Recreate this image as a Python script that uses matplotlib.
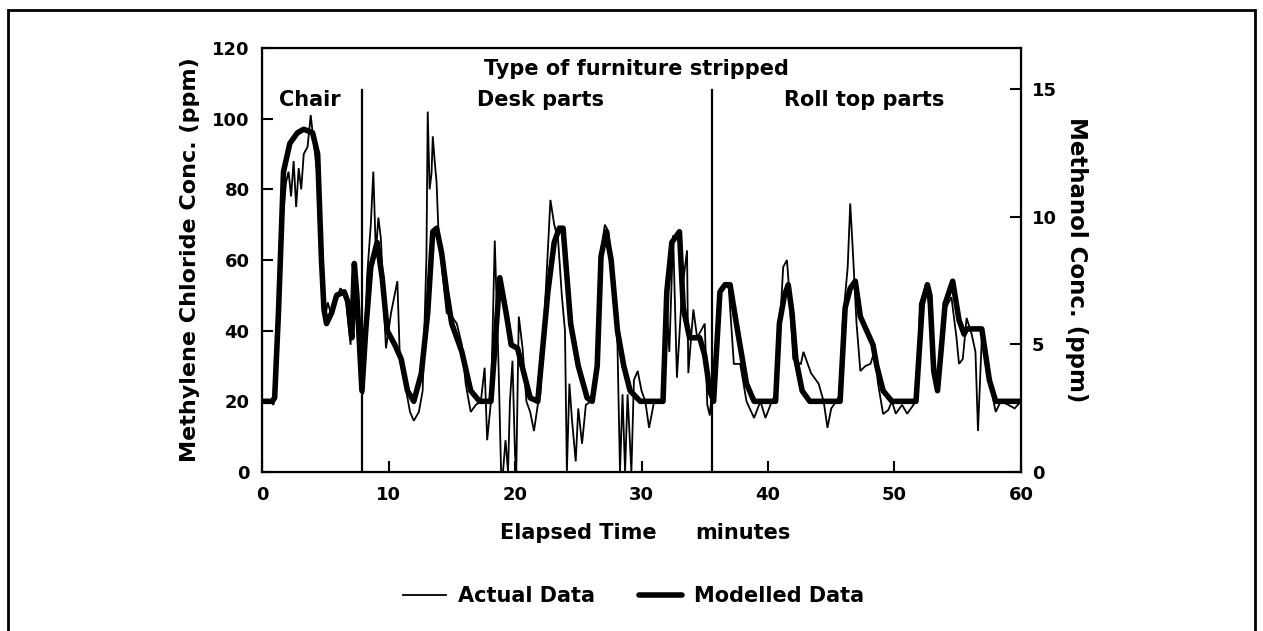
import numpy as np
import matplotlib
matplotlib.use("Agg")
import matplotlib.pyplot as plt
from matplotlib.patches import Rectangle

plt.rcParams['font.family'] = ['DejaVu Sans']
plt.rcParams['font.weight'] = 'bold'

# ---- data (minutes, ppm methylene chloride) ----
model_time = [0, 0.8, 1.0, 1.3, 1.7, 2.2, 2.8, 3.3, 4.0, 4.4, 4.7, 4.9, 5.1, 5.5, 5.9, 6.5, 6.8, 7.1, 7.3, 7.5, 7.9,
              8.2, 8.6, 9.1, 9.5, 9.9, 10.5, 11.0, 11.5, 12.0,
              12.6, 13.1, 13.5, 13.8, 14.2, 14.6, 15.0, 15.8, 16.5, 17.2, 18.1,
              18.4, 18.8, 19.3, 19.7, 20.2, 20.7, 21.2, 21.8,
              22.6, 23.1, 23.5, 23.8, 24.4, 25.0, 25.7, 26.1,
              26.5, 26.8, 27.2, 27.6, 28.1, 28.6, 29.1, 29.9, 31.7,
              32.0, 32.4, 33.0, 33.3, 33.8, 34.6, 35.0, 35.4, 35.7,
              36.2, 36.6, 37.0, 37.5, 38.3, 38.9, 40.6,
              40.9, 41.3, 41.6, 41.9, 42.2, 42.7, 43.3, 45.7,
              46.1, 46.5, 46.9, 47.3, 47.8, 48.3, 48.6, 49.1, 49.8, 51.7,
              52.2, 52.6, 52.8, 53.1, 53.4, 53.7, 54.0, 54.6, 55.1, 55.5, 55.7, 56.9, 57.5, 58.0, 60]
model_ppm = [20, 20, 21, 45, 85, 93, 96, 97, 96, 90, 60, 46, 42, 45, 50, 51, 48, 38, 59, 50, 23,
             40, 58, 65, 55, 40, 36, 32, 23, 20,
             28, 45, 68, 69, 62, 51, 42, 34, 23, 20, 20,
             35, 55, 45, 36, 35, 28, 21, 20,
             51, 65, 69, 69, 42, 30, 21, 20,
             30, 61, 68, 60, 40, 30, 23, 20, 20,
             51, 65, 68, 46.5, 38, 38, 33, 23, 20,
             51, 53, 53, 42, 25, 20, 20,
             42, 50, 53, 45, 32, 23, 20, 20,
             46.5, 52, 54, 44, 40, 36, 30, 23, 20, 20,
             47.6, 53, 50, 28.6, 23, 35, 47.6, 54, 43, 39, 40.5, 40.5, 26, 20, 20]

actual_time = [0, 0.7, 0.9, 1.1, 1.3, 1.6, 1.9, 2.1, 2.3, 2.5, 2.7, 2.9, 3.1, 3.3, 3.6, 3.85, 4.1, 4.5, 4.8, 5.0,
               5.2, 5.5, 5.8, 6.2, 6.6, 7.0, 7.2, 7.4, 7.6, 7.8, 8.0,
               8.3, 8.6, 8.8, 9.0, 9.2, 9.4, 9.6, 9.8, 10.2, 10.7, 10.9, 11.3, 11.7, 12.0, 12.4, 12.7,
               13.0, 13.1, 13.25, 13.4, 13.5, 13.65, 13.8, 13.95, 14.3, 14.6, 15.0, 15.4, 15.8, 16.1, 16.5,
               16.9, 17.3, 17.6, 17.8, 18.1,
               18.4, 18.7, 18.9, 19.05, 19.25, 19.45, 19.6, 19.8, 20.0, 20.1, 20.3, 20.6, 20.9, 21.2, 21.5, 21.8,
               22.0, 22.3, 22.8, 23.1, 23.4, 23.7, 23.95, 24.1, 24.3, 24.5, 24.8, 25.0, 25.3, 25.6, 26.0,
               26.4, 26.8, 27.1, 27.4, 27.6, 27.9, 28.1, 28.3, 28.5, 28.7, 28.9, 29.2, 29.4, 29.7, 30.0,
               30.3, 30.6, 31.0, 31.6,
               32.0, 32.2, 32.5, 32.8, 33.2, 33.6, 33.7, 34.1, 34.4, 35.0, 35.2, 35.4,
               35.9, 36.2, 36.6, 36.9, 37.3, 37.8, 38.3, 38.9, 39.4, 39.8, 40.3,
               40.6, 41.0, 41.2, 41.5, 41.7, 42.0, 42.3, 42.6, 42.8, 43.1, 43.4, 44.0, 44.4, 44.7, 45.0, 45.4,
               45.7, 45.9, 46.3, 46.5, 46.7, 47.0, 47.3, 47.7, 48.1, 48.4, 48.7, 49.1, 49.5, 49.8,
               50.1, 50.6, 51.0, 51.5, 51.8, 52.0, 52.4, 52.6, 52.8, 53.1, 53.4, 54.0, 54.5, 54.9, 55.1,
               55.4, 55.7, 56.1, 56.4, 56.6, 56.9, 57.5, 58.0, 58.4, 59.0, 59.5, 60.0]
actual_ppm = [20, 20, 19, 22, 40, 70, 82, 85, 78, 88, 75, 86, 80, 90, 92, 101, 93, 80, 55, 44,
              48, 44, 48, 52, 50, 36, 55, 58, 40, 28, 22,
              55, 70, 85, 62, 72, 66, 50, 35, 45, 54, 32, 25, 17, 14.5, 17, 23,
              61, 102, 80, 84.5, 95, 88, 82, 68, 55, 45, 44, 42, 36, 25, 17,
              19, 20, 29.5, 9, 20,
              65.5, 30, 0, 0, 9, 0, 20, 31.5, 5, 0, 44, 35, 20, 17, 11.6, 19,
              22, 42, 77, 70, 66, 50, 40, 0, 25, 15, 3, 18, 8, 19, 20,
              30, 62, 70, 68, 60, 45, 36, 0, 22, 0, 22, 0, 26, 28.6, 23,
              20, 12.5, 20, 20,
              46.5, 34, 67, 26.7, 51, 62.7, 28, 46, 38, 42, 19, 16,
              37, 51, 53, 52, 30.6, 30.6, 20, 15.3, 20, 15.3, 20,
              22, 45, 58, 60, 50, 32, 31, 30.6, 34, 31, 28, 25, 20, 12.5, 18, 20,
              22, 42, 58, 76, 63, 42, 28.6, 30, 30.6, 34, 25, 16.4, 17.5, 20,
              16.5, 19, 16.5, 19, 22, 47.6, 52, 51, 45, 28.6, 23, 46, 49.5, 38, 30.6,
              32, 43.6, 39, 34, 11.6, 38, 26, 17, 20, 19, 18, 20]

assert len(model_time) == len(model_ppm)
assert len(actual_time) == len(actual_ppm)

divider_times = [7.9, 35.6]
divider_top = 108
section_labels = ["Chair", "Desk parts", "Roll top parts"]
section_centers = [3.8, 22.0, 47.6]
title_center = 29.6
x_ticks = [0, 10, 20, 30, 40, 50, 60]
left_ticks = [0, 20, 40, 60, 80, 100, 120]
right_ticks = [0, 5, 10, 15]

# ---- figure ----
W, H = 1263, 631
fig = plt.figure(figsize=(W / 100, H / 100), dpi=100)
ax = fig.add_axes([262 / W, 1 - 472 / H, (1021 - 262) / W, (472 - 48) / H])

ax.plot(actual_time, actual_ppm, color='black', lw=1.3, solid_joinstyle='miter', label='Actual Data')
ax.plot(model_time, model_ppm, color='black', lw=4.0, solid_joinstyle='round',
        solid_capstyle='round', label='Modelled Data')
for dt in divider_times:
    ax.plot([dt, dt], [0, divider_top], color='black', lw=1.6)

ax.set_xlim(0, 60)
ax.set_ylim(0, 120)
ax.set_xticks(x_ticks)
ax.set_yticks(left_ticks)
ax.tick_params(axis='both', direction='in', length=8, width=1.5, labelsize=13)
ax.tick_params(axis='x', pad=10)
ax.tick_params(axis='y', pad=9)
for lab in ax.get_xticklabels() + ax.get_yticklabels():
    lab.set_fontweight('bold')
for s in ax.spines.values():
    s.set_linewidth(1.6)

ax.set_ylabel('Methylene Chloride Conc. (ppm)', fontsize=16, fontweight='bold', labelpad=9)

ax2 = ax.twinx()
ax2.set_ylim(0, 16.6)
ax2.set_yticks(right_ticks)
ax2.tick_params(direction='in', length=8, width=1.5, labelsize=13, pad=8)
for lab in ax2.get_yticklabels():
    lab.set_fontweight('bold')
ax2.set_ylabel('Methanol Conc. (ppm)', fontsize=16.5, fontweight='bold', rotation=270, labelpad=22)

ax.text(title_center, 114.0, 'Type of furniture stripped', ha='center', va='center', fontsize=15, fontweight='bold')
for lbl, cx in zip(section_labels, section_centers):
    ax.text(cx, 105.2, lbl, ha='center', va='center', fontsize=15, fontweight='bold')

fig.text(578.5 / W, 1 - 533 / H, 'Elapsed Time', ha='center', va='center', fontsize=15, fontweight='bold')
fig.text(743 / W, 1 - 533 / H, 'minutes', ha='center', va='center', fontsize=15, fontweight='bold')

handles, labels = ax.get_legend_handles_labels()
fig.legend(handles, labels, loc='center', bbox_to_anchor=(633.5 / W, 1 - 596 / H), ncol=2,
           frameon=False, handlelength=2.07, handletextpad=0.58, columnspacing=2.07,
           prop={'size': 15, 'weight': 'bold'})

fig.add_artist(Rectangle((8 / W, -0.05), (1255 - 8) / W, 1.05 - 10 / H, transform=fig.transFigure,
                         fill=False, lw=2, edgecolor='black'))

fig.savefig('out.png', dpi=100)
